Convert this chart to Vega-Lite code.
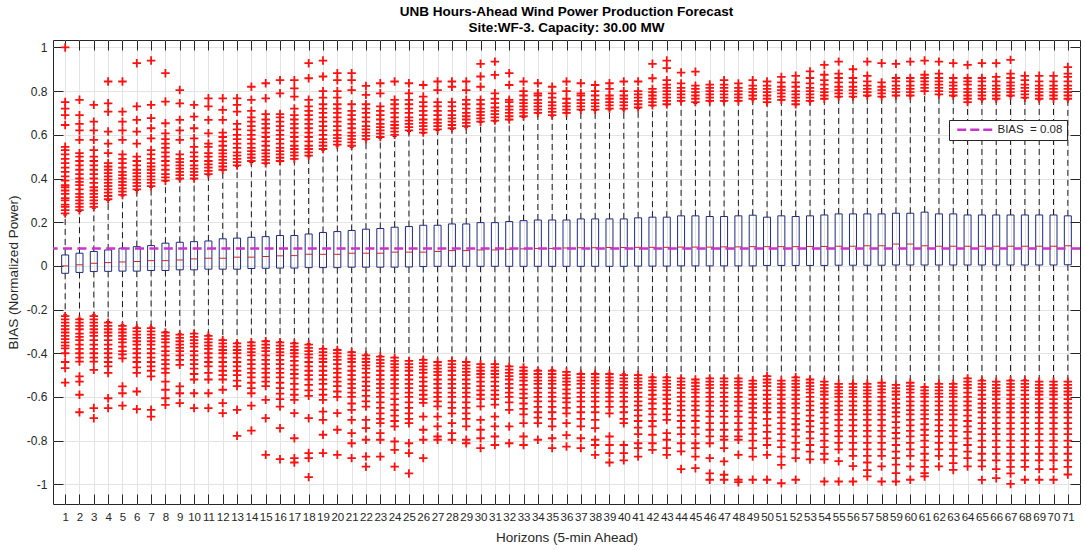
{
  "$schema": "https://vega.github.io/schema/vega-lite/v6.json",
  "width": 1027,
  "height": 464,
  "autosize": {"type": "none"},
  "padding": {"left": 53, "top": 40, "right": 6, "bottom": 46},
  "background": "white",
  "title": {
    "text": ["UNB Hours-Ahead Wind Power Production Forecast", "Site:WF-3. Capacity: 30.00 MW"],
    "font": "Liberation Sans",
    "fontSize": 13.5,
    "fontWeight": "bold",
    "color": "#000000",
    "lineHeight": 16,
    "offset": 5,
    "anchor": "middle"
  },
  "datasets": {
    "boxes": [
      {"h":1,"lo":-0.224,"q1":-0.034,"med":0,"q3":0.05,"hi":0.233},
      {"h":2,"lo":-0.24,"q1":-0.03,"med":0.005,"q3":0.058,"hi":0.249},
      {"h":3,"lo":-0.224,"q1":-0.026,"med":0.012,"q3":0.066,"hi":0.264},
      {"h":4,"lo":-0.255,"q1":-0.025,"med":0.015,"q3":0.073,"hi":0.3},
      {"h":5,"lo":-0.27,"q1":-0.024,"med":0.018,"q3":0.081,"hi":0.32},
      {"h":6,"lo":-0.28,"q1":-0.024,"med":0.02,"q3":0.088,"hi":0.345},
      {"h":7,"lo":-0.28,"q1":-0.021,"med":0.024,"q3":0.093,"hi":0.36},
      {"h":8,"lo":-0.3,"q1":-0.021,"med":0.024,"q3":0.104,"hi":0.386},
      {"h":9,"lo":-0.311,"q1":-0.018,"med":0.027,"q3":0.108,"hi":0.394},
      {"h":10,"lo":-0.308,"q1":-0.018,"med":0.032,"q3":0.111,"hi":0.397},
      {"h":11,"lo":-0.316,"q1":-0.015,"med":0.035,"q3":0.114,"hi":0.416},
      {"h":12,"lo":-0.336,"q1":-0.015,"med":0.035,"q3":0.124,"hi":0.436},
      {"h":13,"lo":-0.35,"q1":-0.015,"med":0.04,"q3":0.127,"hi":0.456},
      {"h":14,"lo":-0.347,"q1":-0.012,"med":0.04,"q3":0.131,"hi":0.473},
      {"h":15,"lo":-0.342,"q1":-0.011,"med":0.043,"q3":0.134,"hi":0.467},
      {"h":16,"lo":-0.347,"q1":-0.01,"med":0.046,"q3":0.139,"hi":0.477},
      {"h":17,"lo":-0.351,"q1":-0.01,"med":0.047,"q3":0.139,"hi":0.488},
      {"h":18,"lo":-0.357,"q1":-0.008,"med":0.053,"q3":0.146,"hi":0.5},
      {"h":19,"lo":-0.377,"q1":-0.008,"med":0.053,"q3":0.153,"hi":0.53},
      {"h":20,"lo":-0.381,"q1":-0.008,"med":0.053,"q3":0.157,"hi":0.549},
      {"h":21,"lo":-0.392,"q1":-0.006,"med":0.058,"q3":0.162,"hi":0.543},
      {"h":22,"lo":-0.404,"q1":-0.006,"med":0.058,"q3":0.168,"hi":0.577},
      {"h":23,"lo":-0.412,"q1":-0.006,"med":0.058,"q3":0.171,"hi":0.584},
      {"h":24,"lo":-0.418,"q1":-0.006,"med":0.063,"q3":0.177,"hi":0.592},
      {"h":25,"lo":-0.433,"q1":-0.005,"med":0.063,"q3":0.18,"hi":0.615},
      {"h":26,"lo":-0.427,"q1":-0.003,"med":0.063,"q3":0.186,"hi":0.607},
      {"h":27,"lo":-0.438,"q1":-0.002,"med":0.066,"q3":0.186,"hi":0.62},
      {"h":28,"lo":-0.433,"q1":-0.002,"med":0.07,"q3":0.192,"hi":0.625},
      {"h":29,"lo":-0.438,"q1":-0.002,"med":0.07,"q3":0.192,"hi":0.635},
      {"h":30,"lo":-0.449,"q1":-0.002,"med":0.073,"q3":0.198,"hi":0.656},
      {"h":31,"lo":-0.449,"q1":-0.002,"med":0.073,"q3":0.198,"hi":0.66},
      {"h":32,"lo":-0.458,"q1":-0.002,"med":0.076,"q3":0.203,"hi":0.668},
      {"h":33,"lo":-0.464,"q1":-0.002,"med":0.078,"q3":0.207,"hi":0.68},
      {"h":34,"lo":-0.476,"q1":-0.002,"med":0.08,"q3":0.21,"hi":0.699},
      {"h":35,"lo":-0.476,"q1":-0.002,"med":0.08,"q3":0.21,"hi":0.686},
      {"h":36,"lo":-0.484,"q1":-0.002,"med":0.082,"q3":0.21,"hi":0.699},
      {"h":37,"lo":-0.491,"q1":-0.002,"med":0.083,"q3":0.215,"hi":0.711},
      {"h":38,"lo":-0.491,"q1":-0.002,"med":0.083,"q3":0.215,"hi":0.711},
      {"h":39,"lo":-0.491,"q1":-0.002,"med":0.084,"q3":0.215,"hi":0.714},
      {"h":40,"lo":-0.494,"q1":-0.002,"med":0.084,"q3":0.215,"hi":0.714},
      {"h":41,"lo":-0.499,"q1":-0.001,"med":0.085,"q3":0.22,"hi":0.72},
      {"h":42,"lo":-0.506,"q1":-0.001,"med":0.085,"q3":0.223,"hi":0.732},
      {"h":43,"lo":-0.508,"q1":-0.001,"med":0.085,"q3":0.223,"hi":0.737},
      {"h":44,"lo":-0.514,"q1":0,"med":0.086,"q3":0.229,"hi":0.752},
      {"h":45,"lo":-0.519,"q1":0,"med":0.086,"q3":0.229,"hi":0.744},
      {"h":46,"lo":-0.514,"q1":0,"med":0.086,"q3":0.226,"hi":0.752},
      {"h":47,"lo":-0.514,"q1":0,"med":0.087,"q3":0.226,"hi":0.752},
      {"h":48,"lo":-0.514,"q1":0,"med":0.087,"q3":0.229,"hi":0.752},
      {"h":49,"lo":-0.525,"q1":0,"med":0.088,"q3":0.232,"hi":0.76},
      {"h":50,"lo":-0.503,"q1":0.002,"med":0.088,"q3":0.223,"hi":0.747},
      {"h":51,"lo":-0.525,"q1":0.002,"med":0.088,"q3":0.229,"hi":0.757},
      {"h":52,"lo":-0.508,"q1":0.002,"med":0.088,"q3":0.226,"hi":0.737},
      {"h":53,"lo":-0.519,"q1":0.002,"med":0.089,"q3":0.229,"hi":0.752},
      {"h":54,"lo":-0.53,"q1":0.002,"med":0.089,"q3":0.233,"hi":0.763},
      {"h":55,"lo":-0.54,"q1":0.003,"med":0.09,"q3":0.238,"hi":0.772},
      {"h":56,"lo":-0.537,"q1":0.003,"med":0.09,"q3":0.238,"hi":0.772},
      {"h":57,"lo":-0.537,"q1":0.003,"med":0.092,"q3":0.238,"hi":0.775},
      {"h":58,"lo":-0.534,"q1":0.003,"med":0.092,"q3":0.238,"hi":0.772},
      {"h":59,"lo":-0.545,"q1":0.004,"med":0.1,"q3":0.241,"hi":0.778},
      {"h":60,"lo":-0.534,"q1":0.004,"med":0.1,"q3":0.241,"hi":0.778},
      {"h":61,"lo":-0.552,"q1":0.004,"med":0.092,"q3":0.246,"hi":0.798},
      {"h":62,"lo":-0.537,"q1":0.004,"med":0.09,"q3":0.238,"hi":0.783},
      {"h":63,"lo":-0.537,"q1":0.004,"med":0.09,"q3":0.238,"hi":0.775},
      {"h":64,"lo":-0.514,"q1":0.004,"med":0.09,"q3":0.233,"hi":0.747},
      {"h":65,"lo":-0.522,"q1":0.004,"med":0.09,"q3":0.233,"hi":0.76},
      {"h":66,"lo":-0.53,"q1":0.004,"med":0.09,"q3":0.233,"hi":0.76},
      {"h":67,"lo":-0.522,"q1":0.004,"med":0.09,"q3":0.233,"hi":0.775},
      {"h":68,"lo":-0.522,"q1":0.004,"med":0.09,"q3":0.233,"hi":0.767},
      {"h":69,"lo":-0.53,"q1":0.004,"med":0.09,"q3":0.233,"hi":0.76},
      {"h":70,"lo":-0.53,"q1":0.004,"med":0.09,"q3":0.233,"hi":0.763},
      {"h":71,"lo":-0.53,"q1":0.005,"med":0.092,"q3":0.229,"hi":0.76}
    ],
    "outliers": [
      {"h":1,"v":0.24},{"h":1,"v":0.255},{"h":1,"v":0.27},{"h":1,"v":0.28},{"h":1,"v":0.3},{"h":1,"v":0.31},{"h":1,"v":0.33},{"h":1,"v":0.345},{"h":1,"v":0.36},{"h":1,"v":0.37},{"h":1,"v":0.39},{"h":1,"v":0.41},{"h":1,"v":0.43},{"h":1,"v":0.45},{"h":1,"v":0.47},{"h":1,"v":0.49},{"h":1,"v":0.51},{"h":1,"v":0.53},{"h":1,"v":0.545},{"h":1,"v":0.645},{"h":1,"v":0.69},{"h":1,"v":0.72},{"h":1,"v":0.75},{"h":1,"v":1.0},
      {"h":1,"v":-0.23},{"h":1,"v":-0.245},{"h":1,"v":-0.26},{"h":1,"v":-0.275},{"h":1,"v":-0.29},{"h":1,"v":-0.305},{"h":1,"v":-0.32},{"h":1,"v":-0.335},{"h":1,"v":-0.35},{"h":1,"v":-0.365},{"h":1,"v":-0.378},{"h":1,"v":-0.4},{"h":1,"v":-0.44},{"h":1,"v":-0.468},{"h":1,"v":-0.534},
      {"h":2,"v":0.255},{"h":2,"v":0.27},{"h":2,"v":0.285},{"h":2,"v":0.3},{"h":2,"v":0.315},{"h":2,"v":0.33},{"h":2,"v":0.35},{"h":2,"v":0.37},{"h":2,"v":0.385},{"h":2,"v":0.4},{"h":2,"v":0.42},{"h":2,"v":0.44},{"h":2,"v":0.46},{"h":2,"v":0.48},{"h":2,"v":0.5},{"h":2,"v":0.516},{"h":2,"v":0.577},{"h":2,"v":0.62},{"h":2,"v":0.65},{"h":2,"v":0.69},{"h":2,"v":0.76},
      {"h":2,"v":-0.245},{"h":2,"v":-0.26},{"h":2,"v":-0.275},{"h":2,"v":-0.29},{"h":2,"v":-0.31},{"h":2,"v":-0.325},{"h":2,"v":-0.34},{"h":2,"v":-0.36},{"h":2,"v":-0.38},{"h":2,"v":-0.4},{"h":2,"v":-0.42},{"h":2,"v":-0.438},{"h":2,"v":-0.506},{"h":2,"v":-0.53},{"h":2,"v":-0.59},{"h":2,"v":-0.67},
      {"h":3,"v":0.27},{"h":3,"v":0.285},{"h":3,"v":0.3},{"h":3,"v":0.315},{"h":3,"v":0.33},{"h":3,"v":0.345},{"h":3,"v":0.36},{"h":3,"v":0.38},{"h":3,"v":0.4},{"h":3,"v":0.42},{"h":3,"v":0.44},{"h":3,"v":0.46},{"h":3,"v":0.48},{"h":3,"v":0.5},{"h":3,"v":0.53},{"h":3,"v":0.577},{"h":3,"v":0.62},{"h":3,"v":0.66},{"h":3,"v":0.737},
      {"h":3,"v":-0.23},{"h":3,"v":-0.245},{"h":3,"v":-0.26},{"h":3,"v":-0.275},{"h":3,"v":-0.29},{"h":3,"v":-0.305},{"h":3,"v":-0.32},{"h":3,"v":-0.34},{"h":3,"v":-0.36},{"h":3,"v":-0.38},{"h":3,"v":-0.4},{"h":3,"v":-0.42},{"h":3,"v":-0.438},{"h":3,"v":-0.476},{"h":3,"v":-0.651},{"h":3,"v":-0.697},
      {"h":4,"v":0.305},{"h":4,"v":0.32},{"h":4,"v":0.335},{"h":4,"v":0.35},{"h":4,"v":0.365},{"h":4,"v":0.38},{"h":4,"v":0.395},{"h":4,"v":0.41},{"h":4,"v":0.425},{"h":4,"v":0.44},{"h":4,"v":0.455},{"h":4,"v":0.47},{"h":4,"v":0.516},{"h":4,"v":0.56},{"h":4,"v":0.615},{"h":4,"v":0.706},{"h":4,"v":0.744},{"h":4,"v":0.844},
      {"h":4,"v":-0.26},{"h":4,"v":-0.275},{"h":4,"v":-0.29},{"h":4,"v":-0.305},{"h":4,"v":-0.32},{"h":4,"v":-0.34},{"h":4,"v":-0.36},{"h":4,"v":-0.38},{"h":4,"v":-0.4},{"h":4,"v":-0.42},{"h":4,"v":-0.44},{"h":4,"v":-0.46},{"h":4,"v":-0.49},{"h":4,"v":-0.606},{"h":4,"v":-0.651},
      {"h":5,"v":0.325},{"h":5,"v":0.34},{"h":5,"v":0.355},{"h":5,"v":0.37},{"h":5,"v":0.385},{"h":5,"v":0.4},{"h":5,"v":0.415},{"h":5,"v":0.43},{"h":5,"v":0.45},{"h":5,"v":0.47},{"h":5,"v":0.49},{"h":5,"v":0.51},{"h":5,"v":0.577},{"h":5,"v":0.62},{"h":5,"v":0.66},{"h":5,"v":0.706},{"h":5,"v":0.844},
      {"h":5,"v":-0.275},{"h":5,"v":-0.29},{"h":5,"v":-0.305},{"h":5,"v":-0.32},{"h":5,"v":-0.335},{"h":5,"v":-0.35},{"h":5,"v":-0.37},{"h":5,"v":-0.39},{"h":5,"v":-0.405},{"h":5,"v":-0.423},{"h":5,"v":-0.552},{"h":5,"v":-0.583},{"h":5,"v":-0.64},
      {"h":6,"v":0.35},{"h":6,"v":0.365},{"h":6,"v":0.38},{"h":6,"v":0.395},{"h":6,"v":0.41},{"h":6,"v":0.425},{"h":6,"v":0.44},{"h":6,"v":0.46},{"h":6,"v":0.48},{"h":6,"v":0.5},{"h":6,"v":0.56},{"h":6,"v":0.615},{"h":6,"v":0.668},{"h":6,"v":0.73},{"h":6,"v":0.928},
      {"h":6,"v":-0.285},{"h":6,"v":-0.3},{"h":6,"v":-0.315},{"h":6,"v":-0.33},{"h":6,"v":-0.345},{"h":6,"v":-0.36},{"h":6,"v":-0.38},{"h":6,"v":-0.4},{"h":6,"v":-0.42},{"h":6,"v":-0.44},{"h":6,"v":-0.465},{"h":6,"v":-0.49},{"h":6,"v":-0.575},{"h":6,"v":-0.656},
      {"h":7,"v":0.365},{"h":7,"v":0.38},{"h":7,"v":0.395},{"h":7,"v":0.41},{"h":7,"v":0.425},{"h":7,"v":0.44},{"h":7,"v":0.455},{"h":7,"v":0.47},{"h":7,"v":0.49},{"h":7,"v":0.51},{"h":7,"v":0.53},{"h":7,"v":0.584},{"h":7,"v":0.63},{"h":7,"v":0.676},{"h":7,"v":0.737},{"h":7,"v":0.94},
      {"h":7,"v":-0.285},{"h":7,"v":-0.3},{"h":7,"v":-0.315},{"h":7,"v":-0.33},{"h":7,"v":-0.345},{"h":7,"v":-0.36},{"h":7,"v":-0.38},{"h":7,"v":-0.4},{"h":7,"v":-0.42},{"h":7,"v":-0.44},{"h":7,"v":-0.46},{"h":7,"v":-0.48},{"h":7,"v":-0.506},{"h":7,"v":-0.659},{"h":7,"v":-0.69},
      {"h":8,"v":0.39},{"h":8,"v":0.405},{"h":8,"v":0.42},{"h":8,"v":0.44},{"h":8,"v":0.46},{"h":8,"v":0.48},{"h":8,"v":0.5},{"h":8,"v":0.52},{"h":8,"v":0.54},{"h":8,"v":0.56},{"h":8,"v":0.58},{"h":8,"v":0.607},{"h":8,"v":0.653},{"h":8,"v":0.752},{"h":8,"v":0.882},
      {"h":8,"v":-0.305},{"h":8,"v":-0.32},{"h":8,"v":-0.335},{"h":8,"v":-0.35},{"h":8,"v":-0.37},{"h":8,"v":-0.39},{"h":8,"v":-0.41},{"h":8,"v":-0.43},{"h":8,"v":-0.45},{"h":8,"v":-0.47},{"h":8,"v":-0.49},{"h":8,"v":-0.53},{"h":8,"v":-0.567},{"h":8,"v":-0.606},{"h":8,"v":-0.636},
      {"h":9,"v":0.4},{"h":9,"v":0.415},{"h":9,"v":0.43},{"h":9,"v":0.445},{"h":9,"v":0.46},{"h":9,"v":0.475},{"h":9,"v":0.49},{"h":9,"v":0.51},{"h":9,"v":0.577},{"h":9,"v":0.62},{"h":9,"v":0.668},{"h":9,"v":0.744},{"h":9,"v":0.805},
      {"h":9,"v":-0.315},{"h":9,"v":-0.33},{"h":9,"v":-0.345},{"h":9,"v":-0.36},{"h":9,"v":-0.375},{"h":9,"v":-0.39},{"h":9,"v":-0.41},{"h":9,"v":-0.43},{"h":9,"v":-0.453},{"h":9,"v":-0.552},{"h":9,"v":-0.583},{"h":9,"v":-0.628},
      {"h":10,"v":0.4},{"h":10,"v":0.415},{"h":10,"v":0.43},{"h":10,"v":0.445},{"h":10,"v":0.46},{"h":10,"v":0.48},{"h":10,"v":0.5},{"h":10,"v":0.52},{"h":10,"v":0.545},{"h":10,"v":0.584},{"h":10,"v":0.63},{"h":10,"v":0.683},{"h":10,"v":0.737},
      {"h":10,"v":-0.31},{"h":10,"v":-0.325},{"h":10,"v":-0.34},{"h":10,"v":-0.355},{"h":10,"v":-0.37},{"h":10,"v":-0.39},{"h":10,"v":-0.41},{"h":10,"v":-0.43},{"h":10,"v":-0.45},{"h":10,"v":-0.47},{"h":10,"v":-0.495},{"h":10,"v":-0.52},{"h":10,"v":-0.583},{"h":10,"v":-0.651},
      {"h":11,"v":0.42},{"h":11,"v":0.435},{"h":11,"v":0.45},{"h":11,"v":0.465},{"h":11,"v":0.48},{"h":11,"v":0.5},{"h":11,"v":0.516},{"h":11,"v":0.545},{"h":11,"v":0.56},{"h":11,"v":0.607},{"h":11,"v":0.668},{"h":11,"v":0.73},{"h":11,"v":0.767},
      {"h":11,"v":-0.32},{"h":11,"v":-0.335},{"h":11,"v":-0.35},{"h":11,"v":-0.365},{"h":11,"v":-0.38},{"h":11,"v":-0.4},{"h":11,"v":-0.42},{"h":11,"v":-0.44},{"h":11,"v":-0.46},{"h":11,"v":-0.49},{"h":11,"v":-0.52},{"h":11,"v":-0.583},{"h":11,"v":-0.651},
      {"h":12,"v":0.44},{"h":12,"v":0.455},{"h":12,"v":0.47},{"h":12,"v":0.485},{"h":12,"v":0.5},{"h":12,"v":0.515},{"h":12,"v":0.53},{"h":12,"v":0.55},{"h":12,"v":0.57},{"h":12,"v":0.59},{"h":12,"v":0.61},{"h":12,"v":0.668},{"h":12,"v":0.714},{"h":12,"v":0.767},
      {"h":12,"v":-0.34},{"h":12,"v":-0.355},{"h":12,"v":-0.37},{"h":12,"v":-0.385},{"h":12,"v":-0.4},{"h":12,"v":-0.42},{"h":12,"v":-0.44},{"h":12,"v":-0.46},{"h":12,"v":-0.48},{"h":12,"v":-0.5},{"h":12,"v":-0.52},{"h":12,"v":-0.567},{"h":12,"v":-0.628},{"h":12,"v":-0.674},
      {"h":13,"v":0.46},{"h":13,"v":0.475},{"h":13,"v":0.49},{"h":13,"v":0.505},{"h":13,"v":0.52},{"h":13,"v":0.54},{"h":13,"v":0.56},{"h":13,"v":0.58},{"h":13,"v":0.6},{"h":13,"v":0.625},{"h":13,"v":0.65},{"h":13,"v":0.706},{"h":13,"v":0.737},{"h":13,"v":0.767},
      {"h":13,"v":-0.355},{"h":13,"v":-0.37},{"h":13,"v":-0.385},{"h":13,"v":-0.4},{"h":13,"v":-0.42},{"h":13,"v":-0.44},{"h":13,"v":-0.46},{"h":13,"v":-0.48},{"h":13,"v":-0.5},{"h":13,"v":-0.525},{"h":13,"v":-0.55},{"h":13,"v":-0.659},{"h":13,"v":-0.778},
      {"h":14,"v":0.48},{"h":14,"v":0.495},{"h":14,"v":0.51},{"h":14,"v":0.525},{"h":14,"v":0.54},{"h":14,"v":0.56},{"h":14,"v":0.58},{"h":14,"v":0.6},{"h":14,"v":0.62},{"h":14,"v":0.64},{"h":14,"v":0.66},{"h":14,"v":0.68},{"h":14,"v":0.71},{"h":14,"v":0.76},{"h":14,"v":0.82},
      {"h":14,"v":-0.35},{"h":14,"v":-0.365},{"h":14,"v":-0.38},{"h":14,"v":-0.395},{"h":14,"v":-0.41},{"h":14,"v":-0.43},{"h":14,"v":-0.45},{"h":14,"v":-0.47},{"h":14,"v":-0.49},{"h":14,"v":-0.51},{"h":14,"v":-0.535},{"h":14,"v":-0.56},{"h":14,"v":-0.583},{"h":14,"v":-0.64},{"h":14,"v":-0.754},
      {"h":15,"v":0.47},{"h":15,"v":0.485},{"h":15,"v":0.5},{"h":15,"v":0.515},{"h":15,"v":0.53},{"h":15,"v":0.55},{"h":15,"v":0.57},{"h":15,"v":0.59},{"h":15,"v":0.61},{"h":15,"v":0.63},{"h":15,"v":0.65},{"h":15,"v":0.67},{"h":15,"v":0.695},{"h":15,"v":0.767},{"h":15,"v":0.836},
      {"h":15,"v":-0.345},{"h":15,"v":-0.36},{"h":15,"v":-0.375},{"h":15,"v":-0.39},{"h":15,"v":-0.41},{"h":15,"v":-0.43},{"h":15,"v":-0.45},{"h":15,"v":-0.47},{"h":15,"v":-0.49},{"h":15,"v":-0.51},{"h":15,"v":-0.53},{"h":15,"v":-0.55},{"h":15,"v":-0.613},{"h":15,"v":-0.697},{"h":15,"v":-0.865},
      {"h":16,"v":0.48},{"h":16,"v":0.495},{"h":16,"v":0.51},{"h":16,"v":0.525},{"h":16,"v":0.54},{"h":16,"v":0.56},{"h":16,"v":0.58},{"h":16,"v":0.6},{"h":16,"v":0.62},{"h":16,"v":0.64},{"h":16,"v":0.66},{"h":16,"v":0.68},{"h":16,"v":0.695},{"h":16,"v":0.79},{"h":16,"v":0.85},
      {"h":16,"v":-0.35},{"h":16,"v":-0.365},{"h":16,"v":-0.38},{"h":16,"v":-0.395},{"h":16,"v":-0.41},{"h":16,"v":-0.43},{"h":16,"v":-0.45},{"h":16,"v":-0.47},{"h":16,"v":-0.49},{"h":16,"v":-0.51},{"h":16,"v":-0.535},{"h":16,"v":-0.56},{"h":16,"v":-0.585},{"h":16,"v":-0.61},{"h":16,"v":-0.644},{"h":16,"v":-0.743},{"h":16,"v":-0.885},
      {"h":17,"v":0.49},{"h":17,"v":0.505},{"h":17,"v":0.52},{"h":17,"v":0.535},{"h":17,"v":0.55},{"h":17,"v":0.57},{"h":17,"v":0.59},{"h":17,"v":0.61},{"h":17,"v":0.63},{"h":17,"v":0.65},{"h":17,"v":0.67},{"h":17,"v":0.69},{"h":17,"v":0.72},{"h":17,"v":0.775},{"h":17,"v":0.813},{"h":17,"v":0.85},
      {"h":17,"v":-0.355},{"h":17,"v":-0.37},{"h":17,"v":-0.385},{"h":17,"v":-0.4},{"h":17,"v":-0.415},{"h":17,"v":-0.435},{"h":17,"v":-0.455},{"h":17,"v":-0.475},{"h":17,"v":-0.495},{"h":17,"v":-0.515},{"h":17,"v":-0.54},{"h":17,"v":-0.565},{"h":17,"v":-0.59},{"h":17,"v":-0.613},{"h":17,"v":-0.674},{"h":17,"v":-0.789},{"h":17,"v":-0.88},{"h":17,"v":-0.9},
      {"h":18,"v":0.505},{"h":18,"v":0.52},{"h":18,"v":0.535},{"h":18,"v":0.55},{"h":18,"v":0.57},{"h":18,"v":0.59},{"h":18,"v":0.61},{"h":18,"v":0.63},{"h":18,"v":0.65},{"h":18,"v":0.67},{"h":18,"v":0.69},{"h":18,"v":0.71},{"h":18,"v":0.73},{"h":18,"v":0.76},{"h":18,"v":0.859},{"h":18,"v":0.928},
      {"h":18,"v":-0.36},{"h":18,"v":-0.375},{"h":18,"v":-0.39},{"h":18,"v":-0.405},{"h":18,"v":-0.42},{"h":18,"v":-0.44},{"h":18,"v":-0.46},{"h":18,"v":-0.48},{"h":18,"v":-0.5},{"h":18,"v":-0.52},{"h":18,"v":-0.545},{"h":18,"v":-0.57},{"h":18,"v":-0.595},{"h":18,"v":-0.697},{"h":18,"v":-0.857},{"h":18,"v":-0.88},{"h":18,"v":-0.967},
      {"h":19,"v":0.535},{"h":19,"v":0.55},{"h":19,"v":0.565},{"h":19,"v":0.58},{"h":19,"v":0.6},{"h":19,"v":0.62},{"h":19,"v":0.64},{"h":19,"v":0.66},{"h":19,"v":0.68},{"h":19,"v":0.7},{"h":19,"v":0.72},{"h":19,"v":0.74},{"h":19,"v":0.77},{"h":19,"v":0.8},{"h":19,"v":0.867},{"h":19,"v":0.94},
      {"h":19,"v":-0.38},{"h":19,"v":-0.395},{"h":19,"v":-0.41},{"h":19,"v":-0.425},{"h":19,"v":-0.44},{"h":19,"v":-0.46},{"h":19,"v":-0.48},{"h":19,"v":-0.5},{"h":19,"v":-0.52},{"h":19,"v":-0.54},{"h":19,"v":-0.565},{"h":19,"v":-0.59},{"h":19,"v":-0.613},{"h":19,"v":-0.667},{"h":19,"v":-0.705},{"h":19,"v":-0.773},{"h":19,"v":-0.857},
      {"h":20,"v":0.555},{"h":20,"v":0.57},{"h":20,"v":0.585},{"h":20,"v":0.6},{"h":20,"v":0.62},{"h":20,"v":0.64},{"h":20,"v":0.66},{"h":20,"v":0.68},{"h":20,"v":0.7},{"h":20,"v":0.72},{"h":20,"v":0.74},{"h":20,"v":0.77},{"h":20,"v":0.8},{"h":20,"v":0.85},{"h":20,"v":0.882},
      {"h":20,"v":-0.385},{"h":20,"v":-0.4},{"h":20,"v":-0.415},{"h":20,"v":-0.43},{"h":20,"v":-0.45},{"h":20,"v":-0.47},{"h":20,"v":-0.49},{"h":20,"v":-0.51},{"h":20,"v":-0.53},{"h":20,"v":-0.55},{"h":20,"v":-0.575},{"h":20,"v":-0.6},{"h":20,"v":-0.674},{"h":20,"v":-0.75},{"h":20,"v":-0.865},
      {"h":21,"v":0.55},{"h":21,"v":0.565},{"h":21,"v":0.58},{"h":21,"v":0.595},{"h":21,"v":0.61},{"h":21,"v":0.63},{"h":21,"v":0.65},{"h":21,"v":0.67},{"h":21,"v":0.69},{"h":21,"v":0.71},{"h":21,"v":0.74},{"h":21,"v":0.805},{"h":21,"v":0.85},{"h":21,"v":0.882},
      {"h":21,"v":-0.395},{"h":21,"v":-0.41},{"h":21,"v":-0.425},{"h":21,"v":-0.44},{"h":21,"v":-0.46},{"h":21,"v":-0.48},{"h":21,"v":-0.5},{"h":21,"v":-0.52},{"h":21,"v":-0.54},{"h":21,"v":-0.56},{"h":21,"v":-0.58},{"h":21,"v":-0.6},{"h":21,"v":-0.63},{"h":21,"v":-0.659},{"h":21,"v":-0.705},{"h":21,"v":-0.766},{"h":21,"v":-0.812},{"h":21,"v":-0.88},
      {"h":22,"v":0.58},{"h":22,"v":0.595},{"h":22,"v":0.61},{"h":22,"v":0.625},{"h":22,"v":0.64},{"h":22,"v":0.66},{"h":22,"v":0.68},{"h":22,"v":0.7},{"h":22,"v":0.72},{"h":22,"v":0.74},{"h":22,"v":0.783},{"h":22,"v":0.824},
      {"h":22,"v":-0.41},{"h":22,"v":-0.425},{"h":22,"v":-0.44},{"h":22,"v":-0.455},{"h":22,"v":-0.47},{"h":22,"v":-0.49},{"h":22,"v":-0.51},{"h":22,"v":-0.53},{"h":22,"v":-0.55},{"h":22,"v":-0.57},{"h":22,"v":-0.595},{"h":22,"v":-0.62},{"h":22,"v":-0.644},{"h":22,"v":-0.705},{"h":22,"v":-0.743},{"h":22,"v":-0.796},{"h":22,"v":-0.873},{"h":22,"v":-0.919},
      {"h":23,"v":0.59},{"h":23,"v":0.605},{"h":23,"v":0.62},{"h":23,"v":0.635},{"h":23,"v":0.65},{"h":23,"v":0.67},{"h":23,"v":0.69},{"h":23,"v":0.71},{"h":23,"v":0.73},{"h":23,"v":0.79},{"h":23,"v":0.836},
      {"h":23,"v":-0.415},{"h":23,"v":-0.43},{"h":23,"v":-0.445},{"h":23,"v":-0.46},{"h":23,"v":-0.48},{"h":23,"v":-0.5},{"h":23,"v":-0.52},{"h":23,"v":-0.54},{"h":23,"v":-0.56},{"h":23,"v":-0.58},{"h":23,"v":-0.6},{"h":23,"v":-0.625},{"h":23,"v":-0.65},{"h":23,"v":-0.675},{"h":23,"v":-0.7},{"h":23,"v":-0.72},{"h":23,"v":-0.766},{"h":23,"v":-0.796},{"h":23,"v":-0.873},
      {"h":24,"v":0.6},{"h":24,"v":0.615},{"h":24,"v":0.63},{"h":24,"v":0.645},{"h":24,"v":0.66},{"h":24,"v":0.68},{"h":24,"v":0.7},{"h":24,"v":0.72},{"h":24,"v":0.74},{"h":24,"v":0.76},{"h":24,"v":0.844},
      {"h":24,"v":-0.42},{"h":24,"v":-0.435},{"h":24,"v":-0.45},{"h":24,"v":-0.465},{"h":24,"v":-0.48},{"h":24,"v":-0.5},{"h":24,"v":-0.52},{"h":24,"v":-0.54},{"h":24,"v":-0.56},{"h":24,"v":-0.585},{"h":24,"v":-0.61},{"h":24,"v":-0.635},{"h":24,"v":-0.66},{"h":24,"v":-0.685},{"h":24,"v":-0.71},{"h":24,"v":-0.735},{"h":24,"v":-0.804},{"h":24,"v":-0.842},{"h":24,"v":-0.919},
      {"h":25,"v":0.62},{"h":25,"v":0.635},{"h":25,"v":0.65},{"h":25,"v":0.665},{"h":25,"v":0.68},{"h":25,"v":0.7},{"h":25,"v":0.72},{"h":25,"v":0.74},{"h":25,"v":0.76},{"h":25,"v":0.79},{"h":25,"v":0.836},
      {"h":25,"v":-0.435},{"h":25,"v":-0.45},{"h":25,"v":-0.465},{"h":25,"v":-0.48},{"h":25,"v":-0.5},{"h":25,"v":-0.52},{"h":25,"v":-0.54},{"h":25,"v":-0.56},{"h":25,"v":-0.58},{"h":25,"v":-0.6},{"h":25,"v":-0.625},{"h":25,"v":-0.65},{"h":25,"v":-0.675},{"h":25,"v":-0.7},{"h":25,"v":-0.72},{"h":25,"v":-0.812},{"h":25,"v":-0.857},{"h":25,"v":-0.95},
      {"h":26,"v":0.61},{"h":26,"v":0.625},{"h":26,"v":0.64},{"h":26,"v":0.655},{"h":26,"v":0.67},{"h":26,"v":0.69},{"h":26,"v":0.71},{"h":26,"v":0.73},{"h":26,"v":0.75},{"h":26,"v":0.775},{"h":26,"v":0.828},
      {"h":26,"v":-0.43},{"h":26,"v":-0.445},{"h":26,"v":-0.46},{"h":26,"v":-0.475},{"h":26,"v":-0.49},{"h":26,"v":-0.51},{"h":26,"v":-0.53},{"h":26,"v":-0.55},{"h":26,"v":-0.57},{"h":26,"v":-0.59},{"h":26,"v":-0.61},{"h":26,"v":-0.627},{"h":26,"v":-0.69},{"h":26,"v":-0.75},{"h":26,"v":-0.796},{"h":26,"v":-0.88},
      {"h":27,"v":0.625},{"h":27,"v":0.64},{"h":27,"v":0.655},{"h":27,"v":0.67},{"h":27,"v":0.69},{"h":27,"v":0.71},{"h":27,"v":0.73},{"h":27,"v":0.75},{"h":27,"v":0.805},{"h":27,"v":0.844},
      {"h":27,"v":-0.44},{"h":27,"v":-0.455},{"h":27,"v":-0.47},{"h":27,"v":-0.485},{"h":27,"v":-0.5},{"h":27,"v":-0.52},{"h":27,"v":-0.54},{"h":27,"v":-0.56},{"h":27,"v":-0.58},{"h":27,"v":-0.6},{"h":27,"v":-0.62},{"h":27,"v":-0.643},{"h":27,"v":-0.69},{"h":27,"v":-0.735},{"h":27,"v":-0.781},{"h":27,"v":-0.796},
      {"h":28,"v":0.63},{"h":28,"v":0.645},{"h":28,"v":0.66},{"h":28,"v":0.675},{"h":28,"v":0.69},{"h":28,"v":0.71},{"h":28,"v":0.73},{"h":28,"v":0.75},{"h":28,"v":0.82},{"h":28,"v":0.844},
      {"h":28,"v":-0.435},{"h":28,"v":-0.45},{"h":28,"v":-0.465},{"h":28,"v":-0.48},{"h":28,"v":-0.5},{"h":28,"v":-0.52},{"h":28,"v":-0.54},{"h":28,"v":-0.56},{"h":28,"v":-0.58},{"h":28,"v":-0.6},{"h":28,"v":-0.625},{"h":28,"v":-0.65},{"h":28,"v":-0.675},{"h":28,"v":-0.72},{"h":28,"v":-0.766},{"h":28,"v":-0.796},
      {"h":29,"v":0.64},{"h":29,"v":0.655},{"h":29,"v":0.67},{"h":29,"v":0.685},{"h":29,"v":0.7},{"h":29,"v":0.72},{"h":29,"v":0.74},{"h":29,"v":0.76},{"h":29,"v":0.805},{"h":29,"v":0.844},
      {"h":29,"v":-0.44},{"h":29,"v":-0.455},{"h":29,"v":-0.47},{"h":29,"v":-0.485},{"h":29,"v":-0.5},{"h":29,"v":-0.52},{"h":29,"v":-0.54},{"h":29,"v":-0.56},{"h":29,"v":-0.58},{"h":29,"v":-0.6},{"h":29,"v":-0.625},{"h":29,"v":-0.65},{"h":29,"v":-0.675},{"h":29,"v":-0.7},{"h":29,"v":-0.735},{"h":29,"v":-0.796},{"h":29,"v":-0.812},
      {"h":30,"v":0.66},{"h":30,"v":0.675},{"h":30,"v":0.69},{"h":30,"v":0.705},{"h":30,"v":0.72},{"h":30,"v":0.74},{"h":30,"v":0.76},{"h":30,"v":0.82},{"h":30,"v":0.867},{"h":30,"v":0.925},
      {"h":30,"v":-0.45},{"h":30,"v":-0.465},{"h":30,"v":-0.48},{"h":30,"v":-0.495},{"h":30,"v":-0.51},{"h":30,"v":-0.53},{"h":30,"v":-0.55},{"h":30,"v":-0.57},{"h":30,"v":-0.59},{"h":30,"v":-0.61},{"h":30,"v":-0.643},{"h":30,"v":-0.705},{"h":30,"v":-0.75},{"h":30,"v":-0.789},{"h":30,"v":-0.834},
      {"h":31,"v":0.665},{"h":31,"v":0.68},{"h":31,"v":0.695},{"h":31,"v":0.71},{"h":31,"v":0.725},{"h":31,"v":0.745},{"h":31,"v":0.765},{"h":31,"v":0.79},{"h":31,"v":0.874},{"h":31,"v":0.935},
      {"h":31,"v":-0.45},{"h":31,"v":-0.465},{"h":31,"v":-0.48},{"h":31,"v":-0.495},{"h":31,"v":-0.51},{"h":31,"v":-0.53},{"h":31,"v":-0.55},{"h":31,"v":-0.57},{"h":31,"v":-0.59},{"h":31,"v":-0.61},{"h":31,"v":-0.635},{"h":31,"v":-0.69},{"h":31,"v":-0.735},{"h":31,"v":-0.781},{"h":31,"v":-0.82},
      {"h":32,"v":0.67},{"h":32,"v":0.685},{"h":32,"v":0.7},{"h":32,"v":0.715},{"h":32,"v":0.73},{"h":32,"v":0.75},{"h":32,"v":0.76},{"h":32,"v":0.828},{"h":32,"v":0.882},
      {"h":32,"v":-0.46},{"h":32,"v":-0.475},{"h":32,"v":-0.49},{"h":32,"v":-0.505},{"h":32,"v":-0.52},{"h":32,"v":-0.54},{"h":32,"v":-0.56},{"h":32,"v":-0.58},{"h":32,"v":-0.6},{"h":32,"v":-0.625},{"h":32,"v":-0.659},{"h":32,"v":-0.735},{"h":32,"v":-0.812},
      {"h":33,"v":0.685},{"h":33,"v":0.7},{"h":33,"v":0.715},{"h":33,"v":0.73},{"h":33,"v":0.745},{"h":33,"v":0.76},{"h":33,"v":0.78},{"h":33,"v":0.8},{"h":33,"v":0.844},
      {"h":33,"v":-0.465},{"h":33,"v":-0.48},{"h":33,"v":-0.495},{"h":33,"v":-0.51},{"h":33,"v":-0.525},{"h":33,"v":-0.545},{"h":33,"v":-0.565},{"h":33,"v":-0.585},{"h":33,"v":-0.605},{"h":33,"v":-0.63},{"h":33,"v":-0.655},{"h":33,"v":-0.68},{"h":33,"v":-0.72},{"h":33,"v":-0.781},{"h":33,"v":-0.82},
      {"h":34,"v":0.7},{"h":34,"v":0.715},{"h":34,"v":0.73},{"h":34,"v":0.745},{"h":34,"v":0.76},{"h":34,"v":0.78},{"h":34,"v":0.79},{"h":34,"v":0.836},
      {"h":34,"v":-0.48},{"h":34,"v":-0.495},{"h":34,"v":-0.51},{"h":34,"v":-0.525},{"h":34,"v":-0.54},{"h":34,"v":-0.56},{"h":34,"v":-0.58},{"h":34,"v":-0.6},{"h":34,"v":-0.62},{"h":34,"v":-0.645},{"h":34,"v":-0.67},{"h":34,"v":-0.695},{"h":34,"v":-0.72},{"h":34,"v":-0.796},
      {"h":35,"v":0.69},{"h":35,"v":0.705},{"h":35,"v":0.72},{"h":35,"v":0.735},{"h":35,"v":0.75},{"h":35,"v":0.77},{"h":35,"v":0.79},{"h":35,"v":0.82},
      {"h":35,"v":-0.48},{"h":35,"v":-0.495},{"h":35,"v":-0.51},{"h":35,"v":-0.525},{"h":35,"v":-0.54},{"h":35,"v":-0.56},{"h":35,"v":-0.58},{"h":35,"v":-0.6},{"h":35,"v":-0.62},{"h":35,"v":-0.645},{"h":35,"v":-0.67},{"h":35,"v":-0.7},{"h":35,"v":-0.735},{"h":35,"v":-0.789},{"h":35,"v":-0.834},
      {"h":36,"v":0.7},{"h":36,"v":0.715},{"h":36,"v":0.73},{"h":36,"v":0.745},{"h":36,"v":0.765},{"h":36,"v":0.8},{"h":36,"v":0.844},
      {"h":36,"v":-0.485},{"h":36,"v":-0.5},{"h":36,"v":-0.515},{"h":36,"v":-0.53},{"h":36,"v":-0.545},{"h":36,"v":-0.565},{"h":36,"v":-0.585},{"h":36,"v":-0.605},{"h":36,"v":-0.625},{"h":36,"v":-0.65},{"h":36,"v":-0.675},{"h":36,"v":-0.72},{"h":36,"v":-0.775},{"h":36,"v":-0.827},
      {"h":37,"v":0.715},{"h":37,"v":0.73},{"h":37,"v":0.745},{"h":37,"v":0.76},{"h":37,"v":0.78},{"h":37,"v":0.79},{"h":37,"v":0.836},
      {"h":37,"v":-0.495},{"h":37,"v":-0.51},{"h":37,"v":-0.525},{"h":37,"v":-0.54},{"h":37,"v":-0.56},{"h":37,"v":-0.58},{"h":37,"v":-0.6},{"h":37,"v":-0.62},{"h":37,"v":-0.645},{"h":37,"v":-0.67},{"h":37,"v":-0.7},{"h":37,"v":-0.735},{"h":37,"v":-0.789},{"h":37,"v":-0.834},
      {"h":38,"v":0.715},{"h":38,"v":0.73},{"h":38,"v":0.745},{"h":38,"v":0.76},{"h":38,"v":0.78},{"h":38,"v":0.8},{"h":38,"v":0.828},
      {"h":38,"v":-0.495},{"h":38,"v":-0.51},{"h":38,"v":-0.525},{"h":38,"v":-0.54},{"h":38,"v":-0.56},{"h":38,"v":-0.58},{"h":38,"v":-0.6},{"h":38,"v":-0.62},{"h":38,"v":-0.645},{"h":38,"v":-0.67},{"h":38,"v":-0.705},{"h":38,"v":-0.743},{"h":38,"v":-0.796},{"h":38,"v":-0.82},{"h":38,"v":-0.865},
      {"h":39,"v":0.72},{"h":39,"v":0.735},{"h":39,"v":0.75},{"h":39,"v":0.765},{"h":39,"v":0.78},{"h":39,"v":0.81},{"h":39,"v":0.836},
      {"h":39,"v":-0.495},{"h":39,"v":-0.51},{"h":39,"v":-0.525},{"h":39,"v":-0.54},{"h":39,"v":-0.56},{"h":39,"v":-0.58},{"h":39,"v":-0.6},{"h":39,"v":-0.62},{"h":39,"v":-0.645},{"h":39,"v":-0.675},{"h":39,"v":-0.781},{"h":39,"v":-0.82},{"h":39,"v":-0.857},{"h":39,"v":-0.9},
      {"h":40,"v":0.72},{"h":40,"v":0.735},{"h":40,"v":0.75},{"h":40,"v":0.765},{"h":40,"v":0.78},{"h":40,"v":0.8},{"h":40,"v":0.844},
      {"h":40,"v":-0.5},{"h":40,"v":-0.515},{"h":40,"v":-0.53},{"h":40,"v":-0.545},{"h":40,"v":-0.56},{"h":40,"v":-0.58},{"h":40,"v":-0.6},{"h":40,"v":-0.62},{"h":40,"v":-0.645},{"h":40,"v":-0.67},{"h":40,"v":-0.7},{"h":40,"v":-0.72},{"h":40,"v":-0.82},{"h":40,"v":-0.857},{"h":40,"v":-0.89},
      {"h":41,"v":0.725},{"h":41,"v":0.74},{"h":41,"v":0.755},{"h":41,"v":0.77},{"h":41,"v":0.785},{"h":41,"v":0.8},{"h":41,"v":0.844},
      {"h":41,"v":-0.5},{"h":41,"v":-0.515},{"h":41,"v":-0.53},{"h":41,"v":-0.545},{"h":41,"v":-0.56},{"h":41,"v":-0.58},{"h":41,"v":-0.6},{"h":41,"v":-0.62},{"h":41,"v":-0.64},{"h":41,"v":-0.66},{"h":41,"v":-0.685},{"h":41,"v":-0.71},{"h":41,"v":-0.74},{"h":41,"v":-0.77},{"h":41,"v":-0.812},{"h":41,"v":-0.834},{"h":41,"v":-0.873},
      {"h":42,"v":0.735},{"h":42,"v":0.75},{"h":42,"v":0.765},{"h":42,"v":0.78},{"h":42,"v":0.795},{"h":42,"v":0.81},{"h":42,"v":0.859},{"h":42,"v":0.925},
      {"h":42,"v":-0.51},{"h":42,"v":-0.525},{"h":42,"v":-0.54},{"h":42,"v":-0.555},{"h":42,"v":-0.57},{"h":42,"v":-0.59},{"h":42,"v":-0.61},{"h":42,"v":-0.63},{"h":42,"v":-0.655},{"h":42,"v":-0.68},{"h":42,"v":-0.71},{"h":42,"v":-0.735},{"h":42,"v":-0.773},{"h":42,"v":-0.812},{"h":42,"v":-0.842},
      {"h":43,"v":0.74},{"h":43,"v":0.755},{"h":43,"v":0.77},{"h":43,"v":0.785},{"h":43,"v":0.8},{"h":43,"v":0.815},{"h":43,"v":0.83},{"h":43,"v":0.85},{"h":43,"v":0.905},{"h":43,"v":0.94},
      {"h":43,"v":-0.51},{"h":43,"v":-0.525},{"h":43,"v":-0.54},{"h":43,"v":-0.555},{"h":43,"v":-0.57},{"h":43,"v":-0.59},{"h":43,"v":-0.61},{"h":43,"v":-0.63},{"h":43,"v":-0.655},{"h":43,"v":-0.68},{"h":43,"v":-0.705},{"h":43,"v":-0.766},{"h":43,"v":-0.796},{"h":43,"v":-0.834},{"h":43,"v":-0.865},
      {"h":44,"v":0.755},{"h":44,"v":0.77},{"h":44,"v":0.785},{"h":44,"v":0.8},{"h":44,"v":0.815},{"h":44,"v":0.835},{"h":44,"v":0.885},
      {"h":44,"v":-0.515},{"h":44,"v":-0.53},{"h":44,"v":-0.545},{"h":44,"v":-0.56},{"h":44,"v":-0.58},{"h":44,"v":-0.6},{"h":44,"v":-0.62},{"h":44,"v":-0.64},{"h":44,"v":-0.66},{"h":44,"v":-0.685},{"h":44,"v":-0.71},{"h":44,"v":-0.74},{"h":44,"v":-0.77},{"h":44,"v":-0.812},{"h":44,"v":-0.849},{"h":44,"v":-0.93},
      {"h":45,"v":0.75},{"h":45,"v":0.765},{"h":45,"v":0.78},{"h":45,"v":0.795},{"h":45,"v":0.81},{"h":45,"v":0.825},{"h":45,"v":0.889},
      {"h":45,"v":-0.52},{"h":45,"v":-0.535},{"h":45,"v":-0.55},{"h":45,"v":-0.565},{"h":45,"v":-0.58},{"h":45,"v":-0.6},{"h":45,"v":-0.62},{"h":45,"v":-0.64},{"h":45,"v":-0.66},{"h":45,"v":-0.685},{"h":45,"v":-0.71},{"h":45,"v":-0.74},{"h":45,"v":-0.77},{"h":45,"v":-0.812},{"h":45,"v":-0.834},{"h":45,"v":-0.873},{"h":45,"v":-0.926},
      {"h":46,"v":0.755},{"h":46,"v":0.77},{"h":46,"v":0.785},{"h":46,"v":0.8},{"h":46,"v":0.815},{"h":46,"v":0.83},
      {"h":46,"v":-0.515},{"h":46,"v":-0.53},{"h":46,"v":-0.545},{"h":46,"v":-0.56},{"h":46,"v":-0.58},{"h":46,"v":-0.6},{"h":46,"v":-0.62},{"h":46,"v":-0.64},{"h":46,"v":-0.665},{"h":46,"v":-0.69},{"h":46,"v":-0.72},{"h":46,"v":-0.75},{"h":46,"v":-0.78},{"h":46,"v":-0.812},{"h":46,"v":-0.88},{"h":46,"v":-0.95},{"h":46,"v":-0.979},
      {"h":47,"v":0.755},{"h":47,"v":0.77},{"h":47,"v":0.785},{"h":47,"v":0.8},{"h":47,"v":0.815},{"h":47,"v":0.83},{"h":47,"v":0.85},
      {"h":47,"v":-0.515},{"h":47,"v":-0.53},{"h":47,"v":-0.545},{"h":47,"v":-0.56},{"h":47,"v":-0.58},{"h":47,"v":-0.6},{"h":47,"v":-0.62},{"h":47,"v":-0.64},{"h":47,"v":-0.665},{"h":47,"v":-0.69},{"h":47,"v":-0.72},{"h":47,"v":-0.75},{"h":47,"v":-0.78},{"h":47,"v":-0.796},{"h":47,"v":-0.834},{"h":47,"v":-0.895},{"h":47,"v":-0.956},{"h":47,"v":-0.979},
      {"h":48,"v":0.755},{"h":48,"v":0.77},{"h":48,"v":0.785},{"h":48,"v":0.8},{"h":48,"v":0.815},{"h":48,"v":0.835},
      {"h":48,"v":-0.515},{"h":48,"v":-0.53},{"h":48,"v":-0.545},{"h":48,"v":-0.56},{"h":48,"v":-0.58},{"h":48,"v":-0.6},{"h":48,"v":-0.62},{"h":48,"v":-0.64},{"h":48,"v":-0.665},{"h":48,"v":-0.69},{"h":48,"v":-0.72},{"h":48,"v":-0.75},{"h":48,"v":-0.78},{"h":48,"v":-0.796},{"h":48,"v":-0.865},{"h":48,"v":-0.979},{"h":48,"v":-0.99},
      {"h":49,"v":0.765},{"h":49,"v":0.78},{"h":49,"v":0.795},{"h":49,"v":0.81},{"h":49,"v":0.825},{"h":49,"v":0.85},
      {"h":49,"v":-0.525},{"h":49,"v":-0.54},{"h":49,"v":-0.555},{"h":49,"v":-0.57},{"h":49,"v":-0.59},{"h":49,"v":-0.61},{"h":49,"v":-0.63},{"h":49,"v":-0.65},{"h":49,"v":-0.67},{"h":49,"v":-0.695},{"h":49,"v":-0.72},{"h":49,"v":-0.745},{"h":49,"v":-0.77},{"h":49,"v":-0.8},{"h":49,"v":-0.834},{"h":49,"v":-0.873},{"h":49,"v":-0.979},
      {"h":50,"v":0.75},{"h":50,"v":0.765},{"h":50,"v":0.78},{"h":50,"v":0.795},{"h":50,"v":0.81},{"h":50,"v":0.825},{"h":50,"v":0.844},
      {"h":50,"v":-0.505},{"h":50,"v":-0.52},{"h":50,"v":-0.535},{"h":50,"v":-0.55},{"h":50,"v":-0.57},{"h":50,"v":-0.59},{"h":50,"v":-0.61},{"h":50,"v":-0.63},{"h":50,"v":-0.65},{"h":50,"v":-0.67},{"h":50,"v":-0.7},{"h":50,"v":-0.73},{"h":50,"v":-0.76},{"h":50,"v":-0.79},{"h":50,"v":-0.82},{"h":50,"v":-0.865},{"h":50,"v":-0.979},
      {"h":51,"v":0.76},{"h":51,"v":0.775},{"h":51,"v":0.79},{"h":51,"v":0.805},{"h":51,"v":0.82},{"h":51,"v":0.84},{"h":51,"v":0.865},
      {"h":51,"v":-0.525},{"h":51,"v":-0.54},{"h":51,"v":-0.555},{"h":51,"v":-0.57},{"h":51,"v":-0.59},{"h":51,"v":-0.61},{"h":51,"v":-0.63},{"h":51,"v":-0.65},{"h":51,"v":-0.67},{"h":51,"v":-0.695},{"h":51,"v":-0.72},{"h":51,"v":-0.745},{"h":51,"v":-0.77},{"h":51,"v":-0.8},{"h":51,"v":-0.83},{"h":51,"v":-0.873},{"h":51,"v":-0.911},{"h":51,"v":-0.995},
      {"h":52,"v":0.74},{"h":52,"v":0.755},{"h":52,"v":0.77},{"h":52,"v":0.785},{"h":52,"v":0.8},{"h":52,"v":0.82},{"h":52,"v":0.84},{"h":52,"v":0.87},
      {"h":52,"v":-0.51},{"h":52,"v":-0.525},{"h":52,"v":-0.54},{"h":52,"v":-0.555},{"h":52,"v":-0.57},{"h":52,"v":-0.59},{"h":52,"v":-0.61},{"h":52,"v":-0.63},{"h":52,"v":-0.65},{"h":52,"v":-0.675},{"h":52,"v":-0.7},{"h":52,"v":-0.725},{"h":52,"v":-0.75},{"h":52,"v":-0.78},{"h":52,"v":-0.81},{"h":52,"v":-0.84},{"h":52,"v":-0.88},{"h":52,"v":-0.979},
      {"h":53,"v":0.755},{"h":53,"v":0.77},{"h":53,"v":0.785},{"h":53,"v":0.8},{"h":53,"v":0.815},{"h":53,"v":0.835},{"h":53,"v":0.86},{"h":53,"v":0.89},
      {"h":53,"v":-0.52},{"h":53,"v":-0.535},{"h":53,"v":-0.55},{"h":53,"v":-0.565},{"h":53,"v":-0.58},{"h":53,"v":-0.6},{"h":53,"v":-0.62},{"h":53,"v":-0.64},{"h":53,"v":-0.66},{"h":53,"v":-0.685},{"h":53,"v":-0.71},{"h":53,"v":-0.735},{"h":53,"v":-0.76},{"h":53,"v":-0.79},{"h":53,"v":-0.82},{"h":53,"v":-0.85},{"h":53,"v":-0.886},
      {"h":54,"v":0.765},{"h":54,"v":0.78},{"h":54,"v":0.795},{"h":54,"v":0.81},{"h":54,"v":0.83},{"h":54,"v":0.85},{"h":54,"v":0.875},{"h":54,"v":0.92},
      {"h":54,"v":-0.53},{"h":54,"v":-0.545},{"h":54,"v":-0.56},{"h":54,"v":-0.575},{"h":54,"v":-0.59},{"h":54,"v":-0.61},{"h":54,"v":-0.63},{"h":54,"v":-0.65},{"h":54,"v":-0.67},{"h":54,"v":-0.695},{"h":54,"v":-0.72},{"h":54,"v":-0.745},{"h":54,"v":-0.77},{"h":54,"v":-0.8},{"h":54,"v":-0.83},{"h":54,"v":-0.86},{"h":54,"v":-0.886},{"h":54,"v":-0.987},
      {"h":55,"v":0.775},{"h":55,"v":0.79},{"h":55,"v":0.805},{"h":55,"v":0.82},{"h":55,"v":0.84},{"h":55,"v":0.86},{"h":55,"v":0.88},{"h":55,"v":0.935},
      {"h":55,"v":-0.54},{"h":55,"v":-0.555},{"h":55,"v":-0.57},{"h":55,"v":-0.585},{"h":55,"v":-0.6},{"h":55,"v":-0.62},{"h":55,"v":-0.64},{"h":55,"v":-0.66},{"h":55,"v":-0.68},{"h":55,"v":-0.705},{"h":55,"v":-0.73},{"h":55,"v":-0.755},{"h":55,"v":-0.78},{"h":55,"v":-0.81},{"h":55,"v":-0.84},{"h":55,"v":-0.894},{"h":55,"v":-0.987},
      {"h":56,"v":0.775},{"h":56,"v":0.79},{"h":56,"v":0.805},{"h":56,"v":0.82},{"h":56,"v":0.84},{"h":56,"v":0.86},{"h":56,"v":0.9},
      {"h":56,"v":-0.54},{"h":56,"v":-0.555},{"h":56,"v":-0.57},{"h":56,"v":-0.585},{"h":56,"v":-0.6},{"h":56,"v":-0.62},{"h":56,"v":-0.64},{"h":56,"v":-0.66},{"h":56,"v":-0.68},{"h":56,"v":-0.705},{"h":56,"v":-0.73},{"h":56,"v":-0.755},{"h":56,"v":-0.78},{"h":56,"v":-0.81},{"h":56,"v":-0.84},{"h":56,"v":-0.87},{"h":56,"v":-0.917},{"h":56,"v":-0.987},
      {"h":57,"v":0.78},{"h":57,"v":0.795},{"h":57,"v":0.81},{"h":57,"v":0.825},{"h":57,"v":0.845},{"h":57,"v":0.87},{"h":57,"v":0.935},
      {"h":57,"v":-0.54},{"h":57,"v":-0.555},{"h":57,"v":-0.57},{"h":57,"v":-0.585},{"h":57,"v":-0.6},{"h":57,"v":-0.62},{"h":57,"v":-0.64},{"h":57,"v":-0.66},{"h":57,"v":-0.68},{"h":57,"v":-0.705},{"h":57,"v":-0.73},{"h":57,"v":-0.755},{"h":57,"v":-0.78},{"h":57,"v":-0.81},{"h":57,"v":-0.84},{"h":57,"v":-0.87},{"h":57,"v":-0.9},{"h":57,"v":-0.935},{"h":57,"v":-0.964},
      {"h":58,"v":0.775},{"h":58,"v":0.79},{"h":58,"v":0.805},{"h":58,"v":0.82},{"h":58,"v":0.84},{"h":58,"v":0.928},
      {"h":58,"v":-0.535},{"h":58,"v":-0.55},{"h":58,"v":-0.565},{"h":58,"v":-0.58},{"h":58,"v":-0.6},{"h":58,"v":-0.62},{"h":58,"v":-0.64},{"h":58,"v":-0.66},{"h":58,"v":-0.68},{"h":58,"v":-0.705},{"h":58,"v":-0.73},{"h":58,"v":-0.755},{"h":58,"v":-0.78},{"h":58,"v":-0.81},{"h":58,"v":-0.84},{"h":58,"v":-0.87},{"h":58,"v":-0.918},{"h":58,"v":-0.987},
      {"h":59,"v":0.78},{"h":59,"v":0.795},{"h":59,"v":0.81},{"h":59,"v":0.825},{"h":59,"v":0.845},{"h":59,"v":0.86},{"h":59,"v":0.925},
      {"h":59,"v":-0.545},{"h":59,"v":-0.56},{"h":59,"v":-0.575},{"h":59,"v":-0.59},{"h":59,"v":-0.61},{"h":59,"v":-0.63},{"h":59,"v":-0.65},{"h":59,"v":-0.67},{"h":59,"v":-0.69},{"h":59,"v":-0.715},{"h":59,"v":-0.74},{"h":59,"v":-0.765},{"h":59,"v":-0.79},{"h":59,"v":-0.82},{"h":59,"v":-0.85},{"h":59,"v":-0.88},{"h":59,"v":-0.91},{"h":59,"v":-0.949},{"h":59,"v":-0.987},
      {"h":60,"v":0.78},{"h":60,"v":0.795},{"h":60,"v":0.81},{"h":60,"v":0.825},{"h":60,"v":0.845},{"h":60,"v":0.86},{"h":60,"v":0.935},
      {"h":60,"v":-0.535},{"h":60,"v":-0.55},{"h":60,"v":-0.565},{"h":60,"v":-0.58},{"h":60,"v":-0.6},{"h":60,"v":-0.62},{"h":60,"v":-0.64},{"h":60,"v":-0.66},{"h":60,"v":-0.68},{"h":60,"v":-0.705},{"h":60,"v":-0.73},{"h":60,"v":-0.755},{"h":60,"v":-0.78},{"h":60,"v":-0.81},{"h":60,"v":-0.84},{"h":60,"v":-0.87},{"h":60,"v":-0.918},{"h":60,"v":-0.979},
      {"h":61,"v":0.8},{"h":61,"v":0.815},{"h":61,"v":0.83},{"h":61,"v":0.845},{"h":61,"v":0.86},{"h":61,"v":0.875},{"h":61,"v":0.94},
      {"h":61,"v":-0.555},{"h":61,"v":-0.57},{"h":61,"v":-0.585},{"h":61,"v":-0.6},{"h":61,"v":-0.62},{"h":61,"v":-0.64},{"h":61,"v":-0.66},{"h":61,"v":-0.68},{"h":61,"v":-0.7},{"h":61,"v":-0.725},{"h":61,"v":-0.75},{"h":61,"v":-0.775},{"h":61,"v":-0.8},{"h":61,"v":-0.83},{"h":61,"v":-0.86},{"h":61,"v":-0.89},{"h":61,"v":-0.92},{"h":61,"v":-0.949},{"h":61,"v":-0.964},
      {"h":62,"v":0.785},{"h":62,"v":0.8},{"h":62,"v":0.815},{"h":62,"v":0.83},{"h":62,"v":0.845},{"h":62,"v":0.86},{"h":62,"v":0.88},{"h":62,"v":0.935},
      {"h":62,"v":-0.54},{"h":62,"v":-0.555},{"h":62,"v":-0.57},{"h":62,"v":-0.585},{"h":62,"v":-0.6},{"h":62,"v":-0.62},{"h":62,"v":-0.64},{"h":62,"v":-0.66},{"h":62,"v":-0.68},{"h":62,"v":-0.705},{"h":62,"v":-0.73},{"h":62,"v":-0.755},{"h":62,"v":-0.78},{"h":62,"v":-0.81},{"h":62,"v":-0.84},{"h":62,"v":-0.87},{"h":62,"v":-0.918},
      {"h":63,"v":0.78},{"h":63,"v":0.795},{"h":63,"v":0.81},{"h":63,"v":0.825},{"h":63,"v":0.84},{"h":63,"v":0.86},{"h":63,"v":0.928},
      {"h":63,"v":-0.54},{"h":63,"v":-0.555},{"h":63,"v":-0.57},{"h":63,"v":-0.585},{"h":63,"v":-0.6},{"h":63,"v":-0.62},{"h":63,"v":-0.64},{"h":63,"v":-0.66},{"h":63,"v":-0.68},{"h":63,"v":-0.705},{"h":63,"v":-0.73},{"h":63,"v":-0.755},{"h":63,"v":-0.78},{"h":63,"v":-0.81},{"h":63,"v":-0.84},{"h":63,"v":-0.87},{"h":63,"v":-0.903},{"h":63,"v":-0.934},
      {"h":64,"v":0.75},{"h":64,"v":0.765},{"h":64,"v":0.78},{"h":64,"v":0.795},{"h":64,"v":0.81},{"h":64,"v":0.83},{"h":64,"v":0.845},{"h":64,"v":0.86},{"h":64,"v":0.92},
      {"h":64,"v":-0.515},{"h":64,"v":-0.53},{"h":64,"v":-0.545},{"h":64,"v":-0.56},{"h":64,"v":-0.58},{"h":64,"v":-0.6},{"h":64,"v":-0.62},{"h":64,"v":-0.64},{"h":64,"v":-0.66},{"h":64,"v":-0.685},{"h":64,"v":-0.71},{"h":64,"v":-0.735},{"h":64,"v":-0.76},{"h":64,"v":-0.79},{"h":64,"v":-0.82},{"h":64,"v":-0.85},{"h":64,"v":-0.88},{"h":64,"v":-0.918},
      {"h":65,"v":0.765},{"h":65,"v":0.78},{"h":65,"v":0.795},{"h":65,"v":0.81},{"h":65,"v":0.825},{"h":65,"v":0.845},{"h":65,"v":0.86},{"h":65,"v":0.928},
      {"h":65,"v":-0.525},{"h":65,"v":-0.54},{"h":65,"v":-0.555},{"h":65,"v":-0.57},{"h":65,"v":-0.59},{"h":65,"v":-0.61},{"h":65,"v":-0.63},{"h":65,"v":-0.65},{"h":65,"v":-0.67},{"h":65,"v":-0.695},{"h":65,"v":-0.72},{"h":65,"v":-0.745},{"h":65,"v":-0.77},{"h":65,"v":-0.8},{"h":65,"v":-0.83},{"h":65,"v":-0.86},{"h":65,"v":-0.89},{"h":65,"v":-0.918},{"h":65,"v":-0.98},
      {"h":66,"v":0.765},{"h":66,"v":0.78},{"h":66,"v":0.795},{"h":66,"v":0.81},{"h":66,"v":0.825},{"h":66,"v":0.845},{"h":66,"v":0.865},{"h":66,"v":0.928},
      {"h":66,"v":-0.53},{"h":66,"v":-0.545},{"h":66,"v":-0.56},{"h":66,"v":-0.575},{"h":66,"v":-0.59},{"h":66,"v":-0.61},{"h":66,"v":-0.63},{"h":66,"v":-0.65},{"h":66,"v":-0.67},{"h":66,"v":-0.695},{"h":66,"v":-0.72},{"h":66,"v":-0.745},{"h":66,"v":-0.77},{"h":66,"v":-0.8},{"h":66,"v":-0.83},{"h":66,"v":-0.86},{"h":66,"v":-0.89},{"h":66,"v":-0.93},{"h":66,"v":-0.972},
      {"h":67,"v":0.78},{"h":67,"v":0.795},{"h":67,"v":0.81},{"h":67,"v":0.825},{"h":67,"v":0.84},{"h":67,"v":0.86},{"h":67,"v":0.88},{"h":67,"v":0.943},
      {"h":67,"v":-0.525},{"h":67,"v":-0.54},{"h":67,"v":-0.555},{"h":67,"v":-0.57},{"h":67,"v":-0.59},{"h":67,"v":-0.61},{"h":67,"v":-0.63},{"h":67,"v":-0.65},{"h":67,"v":-0.67},{"h":67,"v":-0.695},{"h":67,"v":-0.72},{"h":67,"v":-0.745},{"h":67,"v":-0.77},{"h":67,"v":-0.8},{"h":67,"v":-0.83},{"h":67,"v":-0.86},{"h":67,"v":-0.89},{"h":67,"v":-0.92},{"h":67,"v":-0.95},{"h":67,"v":-0.998},
      {"h":68,"v":0.77},{"h":68,"v":0.785},{"h":68,"v":0.8},{"h":68,"v":0.815},{"h":68,"v":0.83},{"h":68,"v":0.85},{"h":68,"v":0.87},
      {"h":68,"v":-0.525},{"h":68,"v":-0.54},{"h":68,"v":-0.555},{"h":68,"v":-0.57},{"h":68,"v":-0.59},{"h":68,"v":-0.61},{"h":68,"v":-0.63},{"h":68,"v":-0.65},{"h":68,"v":-0.67},{"h":68,"v":-0.695},{"h":68,"v":-0.72},{"h":68,"v":-0.745},{"h":68,"v":-0.77},{"h":68,"v":-0.8},{"h":68,"v":-0.83},{"h":68,"v":-0.86},{"h":68,"v":-0.89},{"h":68,"v":-0.92},{"h":68,"v":-0.979},
      {"h":69,"v":0.765},{"h":69,"v":0.78},{"h":69,"v":0.795},{"h":69,"v":0.81},{"h":69,"v":0.825},{"h":69,"v":0.845},{"h":69,"v":0.87},
      {"h":69,"v":-0.53},{"h":69,"v":-0.545},{"h":69,"v":-0.56},{"h":69,"v":-0.575},{"h":69,"v":-0.59},{"h":69,"v":-0.61},{"h":69,"v":-0.63},{"h":69,"v":-0.65},{"h":69,"v":-0.67},{"h":69,"v":-0.695},{"h":69,"v":-0.72},{"h":69,"v":-0.745},{"h":69,"v":-0.77},{"h":69,"v":-0.8},{"h":69,"v":-0.83},{"h":69,"v":-0.86},{"h":69,"v":-0.89},{"h":69,"v":-0.93},{"h":69,"v":-0.979},
      {"h":70,"v":0.765},{"h":70,"v":0.78},{"h":70,"v":0.795},{"h":70,"v":0.81},{"h":70,"v":0.825},{"h":70,"v":0.845},{"h":70,"v":0.87},
      {"h":70,"v":-0.53},{"h":70,"v":-0.545},{"h":70,"v":-0.56},{"h":70,"v":-0.575},{"h":70,"v":-0.59},{"h":70,"v":-0.61},{"h":70,"v":-0.63},{"h":70,"v":-0.65},{"h":70,"v":-0.67},{"h":70,"v":-0.695},{"h":70,"v":-0.72},{"h":70,"v":-0.745},{"h":70,"v":-0.77},{"h":70,"v":-0.8},{"h":70,"v":-0.83},{"h":70,"v":-0.86},{"h":70,"v":-0.89},{"h":70,"v":-0.93},{"h":70,"v":-0.979},
      {"h":71,"v":0.765},{"h":71,"v":0.78},{"h":71,"v":0.795},{"h":71,"v":0.81},{"h":71,"v":0.825},{"h":71,"v":0.845},{"h":71,"v":0.865},{"h":71,"v":0.88},{"h":71,"v":0.91},
      {"h":71,"v":-0.53},{"h":71,"v":-0.545},{"h":71,"v":-0.56},{"h":71,"v":-0.575},{"h":71,"v":-0.59},{"h":71,"v":-0.61},{"h":71,"v":-0.63},{"h":71,"v":-0.65},{"h":71,"v":-0.67},{"h":71,"v":-0.695},{"h":71,"v":-0.72},{"h":71,"v":-0.745},{"h":71,"v":-0.77},{"h":71,"v":-0.8},{"h":71,"v":-0.83},{"h":71,"v":-0.86},{"h":71,"v":-0.89},{"h":71,"v":-0.92},{"h":71,"v":-0.955}
    ]
  },
  "layer": [
    {
      "data": {"name": "boxes"},
      "mark": {"type": "rule", "color": "#1a1a1a", "strokeWidth": 1, "strokeDash": [6, 4]},
      "encoding": {
        "x": {
          "field": "h", "type": "quantitative",
          "scale": {"domain": [0.5, 71.5], "nice": false, "zero": false},
          "axis": {
            "orient": "bottom",
            "values": [1,2,3,4,5,6,7,8,9,10,11,12,13,14,15,16,17,18,19,20,21,22,23,24,25,26,27,28,29,30,31,32,33,34,35,36,37,38,39,40,41,42,43,44,45,46,47,48,49,50,51,52,53,54,55,56,57,58,59,60,61,62,63,64,65,66,67,68,69,70,71],
            "format": "d",
            "tickSize": -10,
            "labelPadding": 17,
            "labelFontSize": 11.5,
            "labelOverlap": false,
            "labelBound": false,
            "labelFlush": false,
            "grid": true,
            "title": "Horizons (5-min Ahead)",
            "titlePadding": 8
          }
        },
        "y": {
          "field": "q3", "type": "quantitative",
          "scale": {"domain": [-1.09, 1.034], "nice": false, "zero": false},
          "axis": {
            "orient": "left",
            "values": [-1, -0.8, -0.6, -0.4, -0.2, 0, 0.2, 0.4, 0.6, 0.8, 1],
            "labelExpr": "datum.value < 0 ? '-' + format(-datum.value, '.1~f') : format(datum.value, '.1~f')",
            "tickSize": -10,
            "labelPadding": 16,
            "grid": true,
            "title": "BIAS (Normalized Power)",
            "titlePadding": 6
          }
        },
        "y2": {"field": "hi"}
      }
    },
    {
      "data": {"name": "boxes"},
      "mark": {"type": "rule", "color": "#1a1a1a", "strokeWidth": 1, "strokeDash": [6, 4]},
      "encoding": {
        "x": {"field": "h", "type": "quantitative", "scale": {"domain": [0.5, 71.5], "nice": false, "zero": false}, "axis": null},
        "y": {"field": "q1", "type": "quantitative", "scale": {"domain": [-1.09, 1.034], "nice": false, "zero": false}, "axis": null},
        "y2": {"field": "lo"}
      }
    },
    {
      "data": {"name": "boxes"},
      "mark": {"type": "tick", "orient": "horizontal", "size": 4, "thickness": 1, "color": "#1a1a1a", "opacity": 1},
      "encoding": {
        "x": {"field": "h", "type": "quantitative", "scale": {"domain": [0.5, 71.5], "nice": false, "zero": false}, "axis": null},
        "y": {"field": "hi", "type": "quantitative", "scale": {"domain": [-1.09, 1.034], "nice": false, "zero": false}, "axis": null}
      }
    },
    {
      "data": {"name": "boxes"},
      "mark": {"type": "tick", "orient": "horizontal", "size": 4, "thickness": 1, "color": "#1a1a1a", "opacity": 1},
      "encoding": {
        "x": {"field": "h", "type": "quantitative", "scale": {"domain": [0.5, 71.5], "nice": false, "zero": false}, "axis": null},
        "y": {"field": "lo", "type": "quantitative", "scale": {"domain": [-1.09, 1.034], "nice": false, "zero": false}, "axis": null}
      }
    },
    {
      "data": {"name": "boxes"},
      "mark": {"type": "bar", "width": 7, "fill": "#ffffff", "fillOpacity": 0, "stroke": "#1f2a80", "strokeWidth": 1},
      "encoding": {
        "x": {
          "field": "h", "type": "quantitative",
          "scale": {"domain": [0.5, 71.5], "nice": false, "zero": false},
          "axis": {
            "orient": "top",
            "values": [1,2,3,4,5,6,7,8,9,10,11,12,13,14,15,16,17,18,19,20,21,22,23,24,25,26,27,28,29,30,31,32,33,34,35,36,37,38,39,40,41,42,43,44,45,46,47,48,49,50,51,52,53,54,55,56,57,58,59,60,61,62,63,64,65,66,67,68,69,70,71],
            "tickSize": -10,
            "labels": false,
            "grid": false,
            "title": null
          }
        },
        "y": {
          "field": "q1", "type": "quantitative",
          "scale": {"domain": [-1.09, 1.034], "nice": false, "zero": false},
          "axis": {
            "orient": "right",
            "values": [-1, -0.8, -0.6, -0.4, -0.2, 0, 0.2, 0.4, 0.6, 0.8, 1],
            "tickSize": -10,
            "labels": false,
            "grid": false,
            "title": null
          }
        },
        "y2": {"field": "q3"}
      }
    },
    {
      "data": {"name": "boxes"},
      "mark": {"type": "tick", "orient": "horizontal", "size": 7, "thickness": 1, "color": "#c62828", "opacity": 1},
      "encoding": {
        "x": {"field": "h", "type": "quantitative", "scale": {"domain": [0.5, 71.5], "nice": false, "zero": false}, "axis": null},
        "y": {"field": "med", "type": "quantitative", "scale": {"domain": [-1.09, 1.034], "nice": false, "zero": false}, "axis": null}
      }
    },
    {
      "data": {"name": "outliers"},
      "mark": {"type": "point", "shape": "M-1,0H1M0,-1V1", "size": 72, "filled": false, "stroke": "#ff1010", "strokeWidth": 1.8, "opacity": 1},
      "encoding": {
        "x": {"field": "h", "type": "quantitative", "scale": {"domain": [0.5, 71.5], "nice": false, "zero": false}, "axis": null},
        "y": {"field": "v", "type": "quantitative", "scale": {"domain": [-1.09, 1.034], "nice": false, "zero": false}, "axis": null}
      }
    },
    {
      "data": {"values": [{"label": "BIAS\u00a0\u00a0= 0.08"}]},
      "mark": {"type": "rule", "strokeWidth": 2.5, "strokeDash": [9, 5.4]},
      "encoding": {
        "y": {"datum": 0.08, "type": "quantitative", "scale": {"domain": [-1.09, 1.034], "nice": false, "zero": false}, "axis": null},
        "color": {
          "field": "label", "type": "nominal",
          "scale": {"range": ["#cc33cc"]},
          "legend": {
            "orient": "none",
            "legendX": 896,
            "legendY": 80,
            "title": null,
            "symbolType": "M-0.5,0H11.8",
            "symbolSize": 36,
            "symbolStrokeWidth": 2.5,
            "symbolDash": [9, 4],
            "labelOffset": 33,
            "labelFontSize": 11.5,
            "labelFont": "Liberation Sans",
            "labelColor": "#262626",
            "fillColor": "#ffffff",
            "strokeColor": "#262626",
            "padding": 4
          }
        }
      }
    }
  ],
  "resolve": {"axis": {"x": "independent", "y": "independent"}},
  "config": {
    "font": "Liberation Sans",
    "view": {"stroke": "#262626", "strokeWidth": 1},
    "axis": {
      "labelFont": "Liberation Sans",
      "titleFont": "Liberation Sans",
      "labelColor": "#262626",
      "titleColor": "#262626",
      "tickColor": "#262626",
      "gridColor": "#e4e4e4",
      "gridOpacity": 1,
      "labelFontSize": 12,
      "titleFontSize": 13.5,
      "titleFontWeight": "normal",
      "domain": false
    }
  }
}
